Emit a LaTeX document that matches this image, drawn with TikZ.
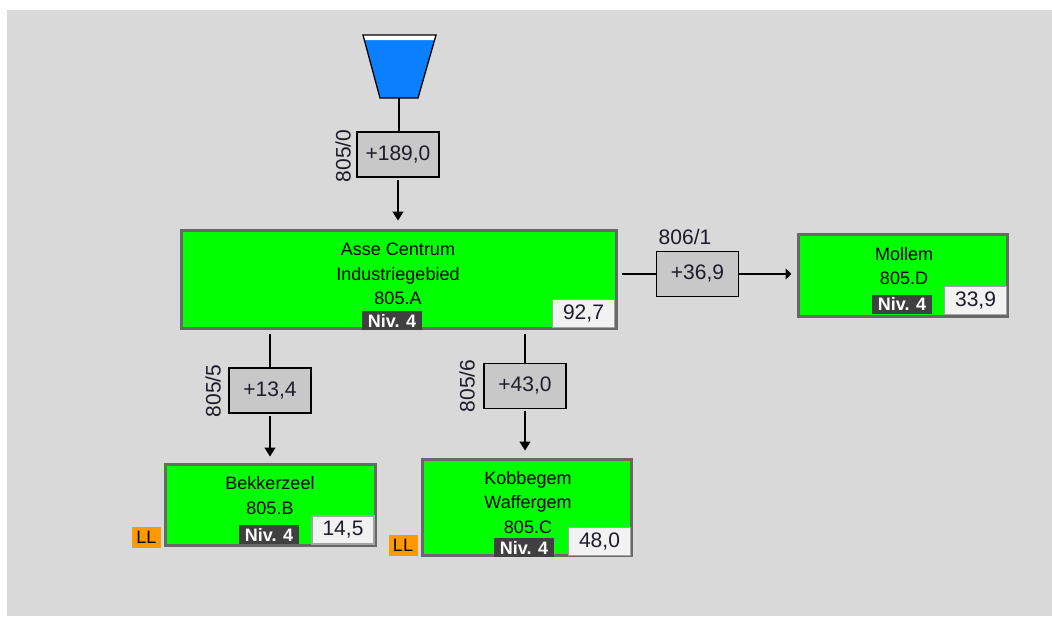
\documentclass[tikz,border=0pt]{standalone}
\usepackage{fontspec}
\setmainfont{Liberation Sans}
\usetikzlibrary{arrows.meta}

\definecolor{bggray}{HTML}{D9D9D9}
\definecolor{stgreen}{HTML}{00FF00}
\definecolor{stborder}{HTML}{686868}
\definecolor{flowgray}{HTML}{C8C8C8}
\definecolor{valfill}{HTML}{F2F2F2}
\definecolor{valborder}{HTML}{A4A4A4}
\definecolor{badgegray}{HTML}{404040}
\definecolor{llorange}{HTML}{FF9900}
\definecolor{funnelblue}{HTML}{0A80FF}
\definecolor{ink}{HTML}{1C1C2A}

\tikzset{
  station/.style={draw=stborder, line width=3pt, fill=stgreen, inner sep=0pt},
  nametext/.style={font=\fontsize{18}{24.5}\selectfont, align=center, inner sep=0pt, text=black},
  flowbox/.style={draw=black, line width=1.4pt, fill=flowgray, minimum width=82pt,
    minimum height=45pt, inner sep=0pt, text=ink, font=\fontsize{21}{24}\selectfont},
  valbox/.style={draw=valborder, line width=1.5pt, fill=valfill, minimum width=62pt,
    minimum height=28pt, inner sep=0pt, text=ink, font=\fontsize{21}{24}\selectfont},
  badge/.style={fill=badgegray, text=white, minimum width=60pt, minimum height=19pt,
    inner sep=0pt, font=\fontsize{18}{20}\selectfont\bfseries},
  llbadge/.style={fill=llorange, text=black, minimum width=29pt, minimum height=21pt,
    inner sep=0pt, font=\fontsize{18}{20}\selectfont},
  pipelabel/.style={text=ink, inner sep=0pt, font=\fontsize{21}{24}\selectfont},
  conn/.style={draw=black, line width=1.3pt},
  downarrow/.style={-{Triangle[width=11pt,length=9pt]}},
  sidearrow/.style={-{Triangle[width=11pt,length=6pt]}}
}

\begin{document}
\begin{tikzpicture}[x=1pt,y=-1pt]
  % canvas
  \useasboundingbox (0,0) rectangle (1052,616);
  \fill[white] (0,0) rectangle (1052,616);
  \fill[bggray] (7,10) rectangle (1052,616);

  % reservoir funnel
  \fill[funnelblue] (363,35) -- (436,35) -- (418,98) -- (380,98) -- cycle;
  \fill[white] (363,35) -- (436,35) -- (434.6,40) -- (364.4,40) -- cycle;
  \draw[line width=1.3pt, line join=miter] (363,35) -- (436,35) -- (418,98) -- (380,98) -- cycle;
  \coordinate (fb) at (399,98);

  % stations
  \node[station, minimum width=435pt, minimum height=98pt] (A) at (399,279.5) {};
  \node[nametext] (Aname) at (398,274) {Asse Centrum\\Industriegebied\\805.A};
  \node[valbox] (Aval) at (583.5,313.5) {92,7};
  \node[badge] (Aniv) at (392,320.5) {Niv. 4};

  \node[station, minimum width=209pt, minimum height=82pt] (D) at (903,275.5) {};
  \node[nametext] (Dname) at (904,266) {Mollem\\805.D};
  \node[valbox] (Dval) at (975.5,300.5) {33,9};
  \node[badge] (Dniv) at (902,304) {Niv. 4};

  \node[station, minimum width=210pt, minimum height=81pt] (B) at (270.5,505) {};
  \node[nametext] (Bname) at (270,495.5) {Bekkerzeel\\805.B};
  \node[valbox] (Bval) at (343,530) {14,5};
  \node[badge] (Bniv) at (269,534.5) {Niv. 4};
  \node[llbadge] (Bll) at (146.5,537) {LL};

  \node[station, minimum width=209pt, minimum height=96pt] (C) at (527,507.5) {};
  \node[nametext] (Cname) at (528,502.5) {Kobbegem\\Waffergem\\805.C};
  \node[valbox] (Cval) at (599.5,541.5) {48,0};
  \node[badge] (Cniv) at (524,547.5) {Niv. 4};
  \node[llbadge] (Cll) at (403,545) {LL};

  % flow boxes on the pipes
  \node[flowbox] (f0) at (398,154.5) {+189,0};
  \node[flowbox] (f1) at (697.5,274) {+36,9};
  \node[flowbox] (f5) at (270,390.5) {+13,4};
  \node[flowbox] (f6) at (525,386) {+43,0};

  % pipe labels
  \node[pipelabel, rotate=90] (l0) at (343,156) {805/0};
  \node[pipelabel] (l1) at (685,237) {806/1};
  \node[pipelabel, rotate=90] (l5) at (213,391) {805/5};
  \node[pipelabel, rotate=90] (l6) at (467,386) {805/6};

  % connectors
  \draw[conn] (fb) -- (fb |- f0.north);
  \draw[conn, downarrow, shorten <=2pt, shorten >=8.5pt] (f0.south) -- (f0.south |- A.north);

  \draw[conn, shorten <=3.5pt] (A.east |- f1.west) -- (f1.west);
  \draw[conn, sidearrow, shorten >=5.5pt] (f1.east) -- (D.west |- f1.east);

  \draw[conn, shorten <=4pt] (A.south -| f5.north) -- (f5.north);
  \draw[conn, downarrow, shorten <=2pt, shorten >=6.5pt] (f5.south) -- (f5.south |- B.north);

  \draw[conn, shorten <=4pt] (A.south -| f6.north) -- (f6.north);
  \draw[conn, downarrow, shorten <=2pt, shorten >=7.5pt] (f6.south) -- (f6.south |- C.north);
\end{tikzpicture}
\end{document}
